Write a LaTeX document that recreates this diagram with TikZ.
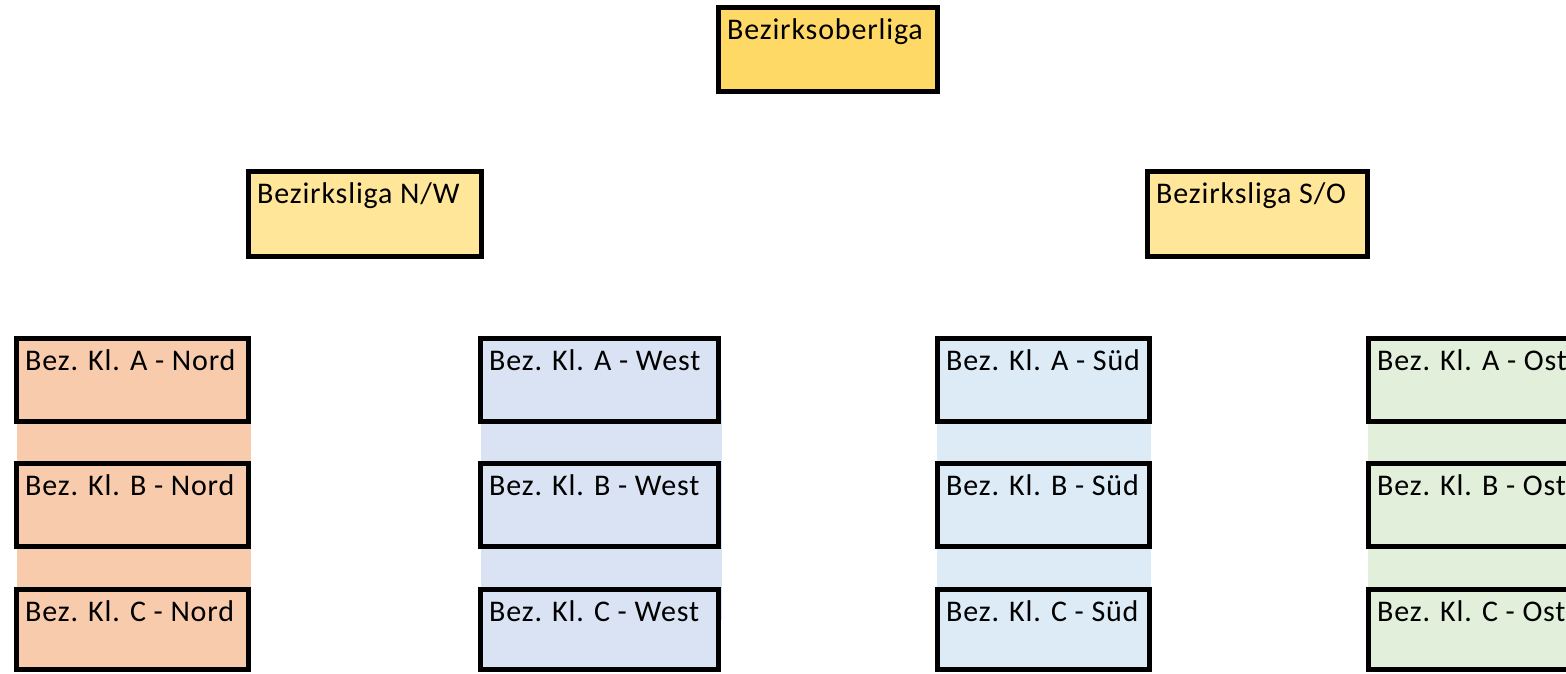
\documentclass[tikz,border=0pt]{standalone}
\usepackage{fontspec}
\setmainfont{Carlito}[LetterSpace=2.8]
\usetikzlibrary{calc}
\definecolor{cTop}{HTML}{FFD966}
\definecolor{cLiga}{HTML}{FFE699}
\definecolor{cNord}{HTML}{F8CBAD}
\definecolor{cWest}{HTML}{DAE3F3}
\definecolor{cSued}{HTML}{DDEBF7}
\definecolor{cOst}{HTML}{E2EFDA}
\tikzset{
  box/.style={draw=black, line width=5pt, rectangle, inner sep=0pt, anchor=north west},
  lbl/.style={anchor=base west, inner sep=0pt, font=\fontsize{30}{34}\selectfont}
}
\newcommand{\mybox}[7]{% name, x, y, w, h, colour, text (x,y = outer top-left corner)
  \node[box, fill=#6, minimum width=#4pt, minimum height=#5pt] (#1) at (#2,#3) {};
  \node[lbl] (#1t) at ($(#1.north west)+(11,34.5)$) {#7};
}
\begin{document}
\begin{tikzpicture}[x=1pt,y=-1pt]
\useasboundingbox (0,0) rectangle (1566,673);
\clip (0,0) rectangle (1566,673);
% column bands
\fill[cNord] (17,400) rectangle (251,620);
\fill[cWest] (481,400) rectangle (722,620);
\fill[cSued] (937,400) rectangle (1151,620);
\fill[cOst] (1368,400) rectangle (1600,620);
% top level
\mybox{top}{716}{5}{219}{84}{cTop}{Bezirksoberliga}
\mybox{nw}{246}{169}{233}{85}{cLiga}{Bezirksliga N/W}
\mybox{so}{1145}{169}{220}{85}{cLiga}{Bezirksliga S/O}
% Nord
\mybox{na}{14}{336}{232}{83}{cNord}{Bez. Kl. A - Nord}
\mybox{nb}{14}{461}{232}{83}{cNord}{Bez. Kl. B - Nord}
\mybox{nc}{14}{587}{232}{80}{cNord}{Bez. Kl. C - Nord}
% West
\mybox{wa}{478}{336}{238}{83}{cWest}{Bez. Kl. A - West}
\mybox{wb}{478}{461}{238}{83}{cWest}{Bez. Kl. B - West}
\mybox{wc}{478}{587}{238}{80}{cWest}{Bez. Kl. C - West}
% Sued
\mybox{sa}{935}{336}{212}{83}{cSued}{Bez. Kl. A - Süd}
\mybox{sb}{935}{461}{212}{83}{cSued}{Bez. Kl. B - Süd}
\mybox{sc}{935}{587}{212}{80}{cSued}{Bez. Kl. C - Süd}
% Ost
\mybox{oa}{1366}{336}{230}{83}{cOst}{Bez. Kl. A - Ost}
\mybox{ob}{1366}{461}{230}{83}{cOst}{Bez. Kl. B - Ost}
\mybox{oc}{1366}{587}{230}{80}{cOst}{Bez. Kl. C - Ost}
\end{tikzpicture}
\end{document}
